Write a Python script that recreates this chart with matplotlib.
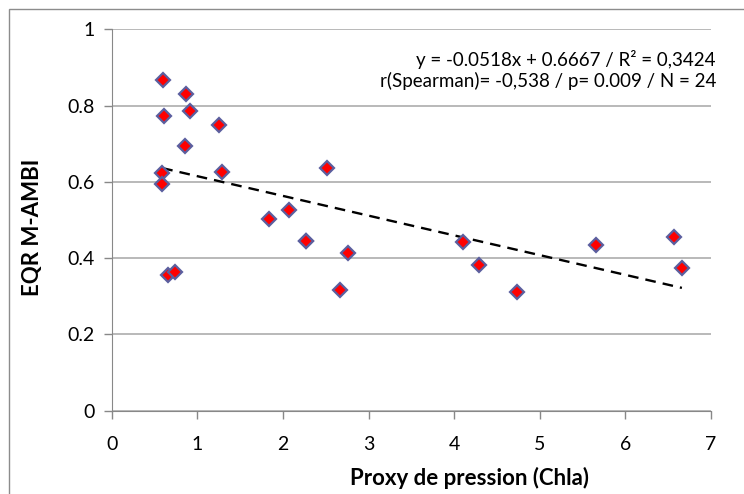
import matplotlib.pyplot as plt
from matplotlib.patches import Rectangle
import numpy as np

#### data
chla = [0.60, 0.87, 0.61, 0.91, 1.25, 0.86, 1.29, 0.59, 0.59, 2.52, 1.84, 2.07,
        2.27, 2.27, 0.66, 0.74, 2.76, 2.67, 4.10, 4.29, 4.73, 5.66, 6.57, 6.66]
eqr = [0.868, 0.830, 0.773, 0.786, 0.749, 0.693, 0.627, 0.623, 0.595, 0.636, 0.503, 0.526,
       0.446, 0.446, 0.356, 0.364, 0.413, 0.315, 0.443, 0.383, 0.311, 0.434, 0.455, 0.373]
slope, intercept = -0.0518, 0.6667
stats_text = ["y = -0.0518x + 0.6667 / R² = 0,3424",
              "r(Spearman)= -0,538 / p= 0.009 / N = 24"]
xticks = [0, 1, 2, 3, 4, 5, 6, 7]
yticks = [0, 0.2, 0.4, 0.6, 0.8, 1]

plt.rcParams['font.family'] = ['Lato', 'DejaVu Sans']

W, H = 744, 494
fig = plt.figure(figsize=(W / 100, H / 100), dpi=100)
ax = fig.add_axes([111.7 / W, 1 - 410.5 / H, (711 - 111.7) / W, (410.5 - 29.4) / H])

# frame round the whole chart (only left/top visible)
fig.patches.append(Rectangle((9 / W, -0.1), 1.2, 1 - 9 / H + 0.1, transform=fig.transFigure,
                             fill=False, ec='#8c8c8c', lw=1))

ax.set_xlim(0, 7)
ax.set_ylim(0, 1)
ax.set_xticks(xticks)
ax.set_xticklabels([str(t) for t in xticks])
ax.set_yticks(yticks)
ax.set_yticklabels(['{:g}'.format(t) for t in yticks])

ax.yaxis.grid(True, color='#b3b3b3', lw=1.3)
ax.set_axisbelow(True)
for s in ['top', 'right']:
    ax.spines[s].set_visible(False)
for s in ['left', 'bottom']:
    ax.spines[s].set_color('#888888')
ax.tick_params(axis='both', direction='out', length=5.5, width=1, color='#888888',
               labelsize=14, labelcolor='black')
ax.tick_params(axis='x', pad=13)
ax.tick_params(axis='y', pad=7)

# points
ax.plot(chla, eqr, linestyle='none', marker='D', markersize=7,
        markerfacecolor='#ff0000', markeredgecolor='#5b5f9f', markeredgewidth=1.6,
        zorder=3)

# trend line
xs = np.array([min(chla), max(chla)])
ax.plot(xs, slope * xs + intercept, color='black', lw=1.7, dashes=(4.5, 3.0), zorder=2)

fig.text(716 / W, 1 - 70 / H, "\n".join(stats_text), ha='right', va='center',
         multialignment='right', fontsize=13.5, linespacing=1.15)

fig.text(469.5 / W, 1 - 478 / H, 'Proxy de pression (Chla)', ha='center', va='center',
         fontsize=16, fontweight='bold')
fig.text(33 / W, 1 - 227.5 / H, 'EQR M-AMBI', ha='center', va='center', rotation=90,
         fontsize=16, fontweight='bold')

fig.savefig('out.png', dpi=100)
